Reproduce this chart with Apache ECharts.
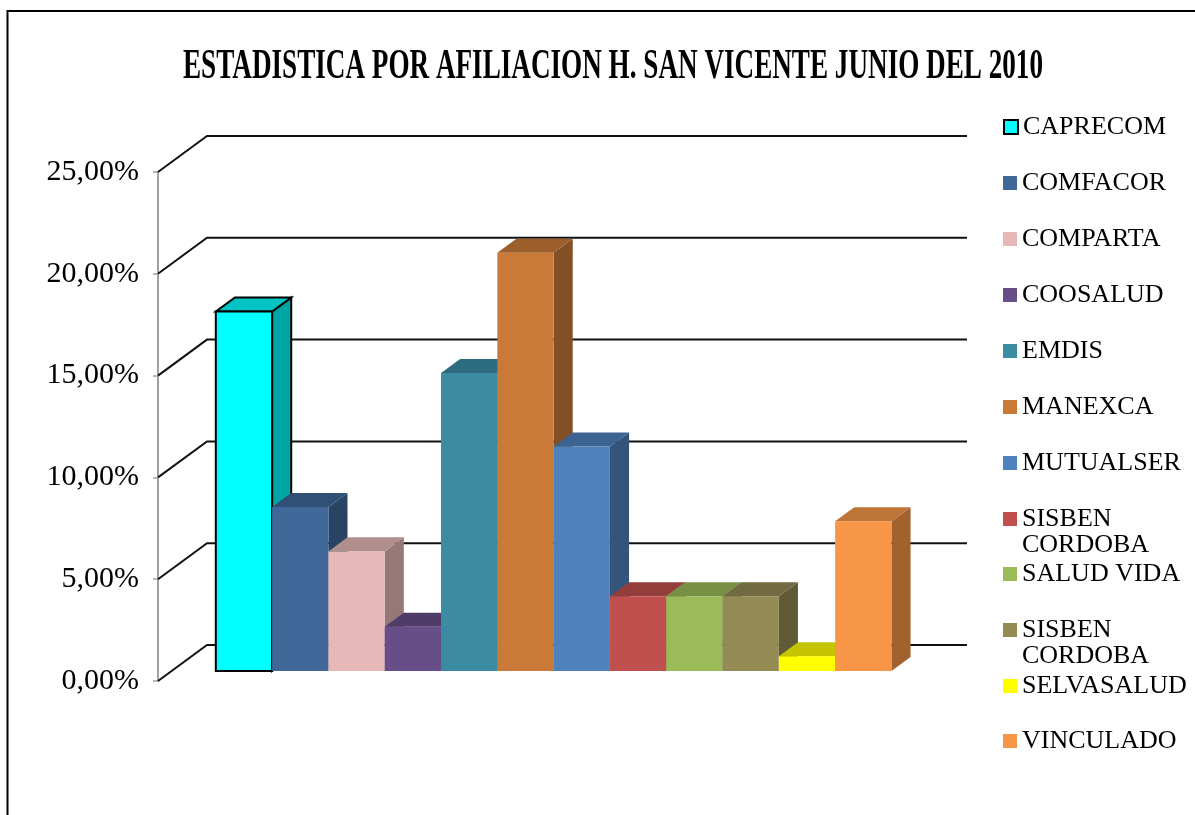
<!DOCTYPE html>
<html>
<head>
<meta charset="utf-8">
<script src="https://cdn.jsdelivr.net/npm/echarts@6/dist/echarts.min.js"></script>
<style>
  html, body { margin: 0; padding: 0; background: #fff; }
  #chart { width: 1195px; height: 815px; }
</style>
</head>
<body>
<div id="chart"></div>
<script>
const names = [
  "CAPRECOM", "COMFACOR", "COMPARTA", "COOSALUD", "EMDIS", "MANEXCA",
  "MUTUALSER", "SISBEN CORDOBA", "SALUD VIDA", "SISBEN CORDOBA", "SELVASALUD", "VINCULADO",
];
const values = [
  0.1765, 0.0805, 0.0587, 0.0217, 0.1463, 0.2054,
  0.1102, 0.0367, 0.0367, 0.0367, 0.0072, 0.0735,
];
const colors = [
  "#00ffff", "#3f6899", "#e6b9b8", "#674e88", "#3b8ca3", "#ca7a38",
  "#4f81bd", "#c0504d", "#9bbb59", "#948a54", "#ffff00", "#f79646",
];
const yTicks = [0, 0.05, 0.1, 0.15, 0.2, 0.25];
const titleText = "ESTADISTICA POR AFILIACION H. SAN VICENTE JUNIO DEL 2010";

// 3d look: depth of the whole box, where the bars sit in it, how deep they are
const DEPTH = [49, -36];
const PLANE = [DEPTH[0] * 0.28, DEPTH[1] * 0.28];
const BAR_DEPTH = [DEPTH[0] * 0.39, DEPTH[1] * 0.39];
const BAR_PAD = 0.058,
  BAR_SPAN = 0.889;

const shade = (hex, k) => {
  const n = parseInt(hex.slice(1), 16);
  const c = [(n >> 16) & 255, (n >> 8) & 255, n & 255].map((v) => Math.round(v * k));
  return `rgb(${c[0]},${c[1]},${c[2]})`;
};

const ctx = document.createElement("canvas").getContext("2d");
const titleFont = 'bold 42px "Liberation Serif"';
ctx.font = titleFont;
const titleScale = 860 / ctx.measureText(titleText).width;

function drawBar(i, params, api) {
  const base = api.coord([0, 0]);
  const top = api.coord([0, api.value(1)]);
  const band = api.size([1, 0])[0];
  const bw = (band * BAR_SPAN) / names.length;
  const x0 = base[0] - band / 2 + band * BAR_PAD + i * bw + PLANE[0];
  const x1 = x0 + bw;
  const y0 = base[1] + PLANE[1];
  const y1 = top[1] + PLANE[1];
  const dx = BAR_DEPTH[0],
    dy = BAR_DEPTH[1];
  const outline = i === 0 ? { stroke: "#000", lineWidth: 2 } : { stroke: null };
  return {
    type: "group",
    children: [
      {
        type: "polygon",
        shape: { points: [[x1, y1], [x1 + dx, y1 + dy], [x1 + dx, y0 + dy], [x1, y0]] },
        style: Object.assign({ fill: shade(colors[i], 0.65) }, outline),
      },
      {
        type: "polygon",
        shape: { points: [[x0, y1], [x0 + dx, y1 + dy], [x1 + dx, y1 + dy], [x1, y1]] },
        style: Object.assign({ fill: shade(colors[i], 0.77) }, outline),
      },
      {
        type: "rect",
        shape: { x: x0, y: y1, width: bw, height: y0 - y1 },
        style: Object.assign({ fill: colors[i] }, outline),
      },
    ],
  };
}

// side wall diagonals and back wall lines
function drawWalls(params, api) {
  const cs = params.coordSys;
  const y = api.coord([0, api.value(1)])[1];
  const bx = cs.x + DEPTH[0],
    by = y + DEPTH[1];
  return {
    type: "polyline",
    shape: { points: [[cs.x, y], [bx, by], [cs.x + cs.width + DEPTH[0], by]] },
    style: { stroke: "#111", lineWidth: 2, fill: null },
  };
}

const legendRows = [127, 183, 239, 295, 351, 407, 463, 519, 574, 630, 686, 741];

const chart = echarts.init(document.getElementById("chart"));
chart.setOption({
  animation: false,
  graphic: [
    {
      type: "rect",
      shape: { x: 7.5, y: 11, width: 1300, height: 900 },
      style: { fill: null, stroke: "#000", lineWidth: 2 },
      silent: true,
    },
    {
      type: "text",
      x: 613,
      y: 67,
      scaleX: titleScale,
      style: {
        text: titleText,
        font: titleFont,
        fill: "#000",
        align: "center",
        verticalAlign: "middle",
      },
    },
  ],
  legend: names.map((name, i) => {
    // two line names keep the marker on the first line
    const twoLines = name === "SISBEN CORDOBA";
    return {
      left: 1003,
      top: legendRows[i] - (twoLines ? 39 : 13),
      padding: 0,
      icon: "rect",
      itemWidth: 14,
      itemHeight: 14,
      itemGap: 0,
      selectedMode: false,
      formatter: (n) => (twoLines ? "\nSISBEN\nCORDOBA" : n),
      textStyle: {
        fontFamily: "Liberation Serif",
        fontSize: 26,
        color: "#000",
        lineHeight: 26,
      },
      data: [
        {
          name: name,
          itemStyle: {
            color: colors[i],
            borderColor: i === 0 ? "#000" : null,
            borderWidth: i === 0 ? 2 : 0,
          },
        },
      ],
    };
  }),
  grid: { left: 158, right: 277, top: 172, bottom: 134 },
  xAxis: { type: "category", data: [""], show: false },
  yAxis: {
    type: "value",
    min: 0,
    max: 0.25,
    interval: 0.05,
    axisLine: { show: true, lineStyle: { color: "#a0a0a0", width: 2 } },
    axisTick: { show: true, length: 5, lineStyle: { color: "#a0a0a0", width: 1.5 } },
    splitLine: { show: false },
    axisLabel: {
      margin: 19,
      fontFamily: "Liberation Serif",
      fontSize: 30,
      color: "#000",
      formatter: (v) => (v * 100).toFixed(2).replace(".", ",") + "%",
    },
  },
  series: [
    {
      type: "custom",
      name: "walls",
      z: 1,
      silent: true,
      renderItem: drawWalls,
      data: yTicks.map((v) => [0, v]),
    },
  ].concat(
    names.map((name, i) => ({
      type: "custom",
      name: name,
      z: 10 + i,
      itemStyle: { color: colors[i] },
      renderItem: (params, api) => drawBar(i, params, api),
      data: [[0, values[i]]],
    }))
  ),
});
</script>
</body>
</html>
